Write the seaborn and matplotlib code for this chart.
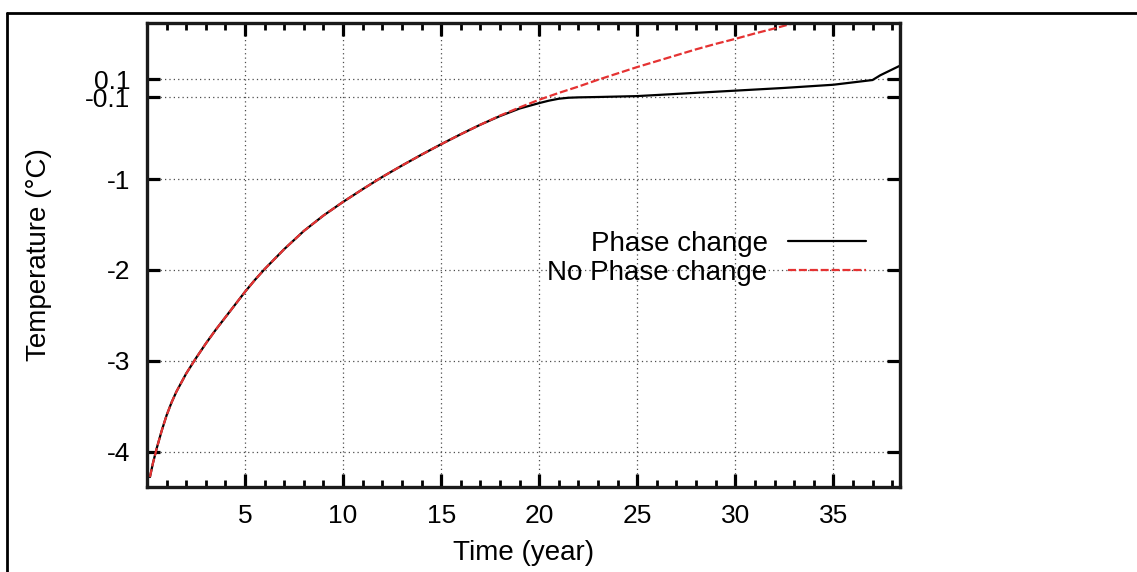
"""
Temperature vs time, with and without phase change (gnuplot-like look).
"""
import matplotlib.pyplot as plt
import matplotlib.ticker as mticker
import numpy as np
import pandas as pd
import seaborn as sns
from matplotlib.lines import Line2D

# values
time_nopc = [0.15, 0.3, 0.5, 0.75, 1, 1.25, 1.5, 2, 2.5, 3, 3.5, 4, 4.5, 5,
             5.5, 6, 6.5, 7, 7.5, 8, 9, 10, 11, 12, 13, 14, 15, 16, 17, 18,
             19, 20, 21, 22, 23, 24, 25, 26, 27, 28, 29, 30, 31, 32, 33]
temp_nopc = [-4.28, -4.13, -3.96, -3.77, -3.60, -3.46, -3.34, -3.14, -2.97,
             -2.81, -2.66, -2.52, -2.38, -2.24, -2.11, -1.99, -1.88, -1.77,
             -1.67, -1.57, -1.40, -1.25, -1.11, -0.975, -0.85, -0.73, -0.615,
             -0.505, -0.40, -0.30, -0.21, -0.125, -0.05, 0.02, 0.095, 0.165,
             0.235, 0.30, 0.365, 0.43, 0.49, 0.545, 0.605, 0.66, 0.72]

time_pc = [0.15, 0.3, 0.5, 0.75, 1, 1.25, 1.5, 2, 2.5, 3, 3.5, 4, 4.5, 5,
           5.5, 6, 6.5, 7, 7.5, 8, 9, 10, 11, 12, 13, 14, 15, 16, 17, 18,
           19, 20, 20.5, 21, 21.5, 22, 23, 25, 27.5, 30, 32.5, 35, 37, 37.4,
           38.4]
temp_pc = [-4.28, -4.13, -3.96, -3.77, -3.60, -3.46, -3.34, -3.14, -2.97,
           -2.81, -2.66, -2.52, -2.38, -2.24, -2.11, -1.99, -1.88, -1.77,
           -1.67, -1.57, -1.40, -1.25, -1.11, -0.975, -0.85, -0.73, -0.615,
           -0.505, -0.40, -0.305, -0.222, -0.162, -0.135, -0.114, -0.103,
           -0.099, -0.095, -0.085, -0.055, -0.025, 0.005, 0.04, 0.092, 0.145,
           0.25]

x_major = [5, 10, 15, 20, 25, 30, 35]
y_major = [-4, -3, -2, -1, -0.1, 0.1]
y_labels = ["-4", "-3", "-2", "-1", "-0.1", "0.1"]

sns.set_style("ticks")
plt.rcParams["font.family"] = ["Liberation Sans", "DejaVu Sans"]
plt.rcParams["text.color"] = "black"
plt.rcParams["axes.labelcolor"] = "black"

W, H = 1137, 572
fig = plt.figure(figsize=(W / 100, H / 100), dpi=100)
ax = fig.add_axes([147 / W, 1 - 487 / H, 753 / W, 464 / H])

sns.lineplot(x=time_pc, y=temp_pc, ax=ax, color="black", lw=1.6,
             label="Phase change", sort=False)
sns.lineplot(x=time_nopc, y=temp_nopc, ax=ax, color="#e53232", lw=1.6,
             label="No Phase change", sort=False)
ax.lines[1].set_dashes((3.6, 1.3))

ax.set_xlim(0, 38.4)
ax.set_ylim(-4.39, 0.72)

ax.xaxis.set_major_locator(mticker.FixedLocator(x_major))
ax.xaxis.set_minor_locator(mticker.MultipleLocator(1))
ax.set_yticks(y_major)
ax.set_yticklabels(y_labels)

ax.grid(True, which="major", color="0.3", ls=(0, (1, 2.5)), lw=0.9)
ax.tick_params(which="both", direction="in", top=True, right=True,
               labelsize=19, colors="black", labelcolor="black")
ax.tick_params(which="major", length=9.5, width=2.3)
ax.tick_params(which="minor", length=5, width=2.0)
ax.tick_params(axis="x", which="major", pad=12)
ax.tick_params(axis="y", which="major", pad=12)
for sp in ax.spines.values():
    sp.set_linewidth(2.4)
    sp.set_color("#1a1a1a")

ax.set_xlabel("Time (year)", fontsize=20, labelpad=9)
ax.set_ylabel("Temperature (°C)", fontsize=20, labelpad=24)

ax.legend(loc="center right", bbox_to_anchor=(0.955, 0.493), frameon=False,
          markerfirst=False, fontsize=20, handlelength=2.8,
          handletextpad=0.75, labelspacing=0.12, borderpad=0,
          borderaxespad=0)

# outer frame (only top and left edges visible in the crop)
fig.add_artist(Line2D([7 / W, 1], [1 - 13 / H, 1 - 13 / H], color="black",
                      lw=2, transform=fig.transFigure))
fig.add_artist(Line2D([7 / W, 7 / W], [0, 1 - 13 / H], color="black",
                      lw=2, transform=fig.transFigure))

fig.savefig("out.png", dpi=100)
